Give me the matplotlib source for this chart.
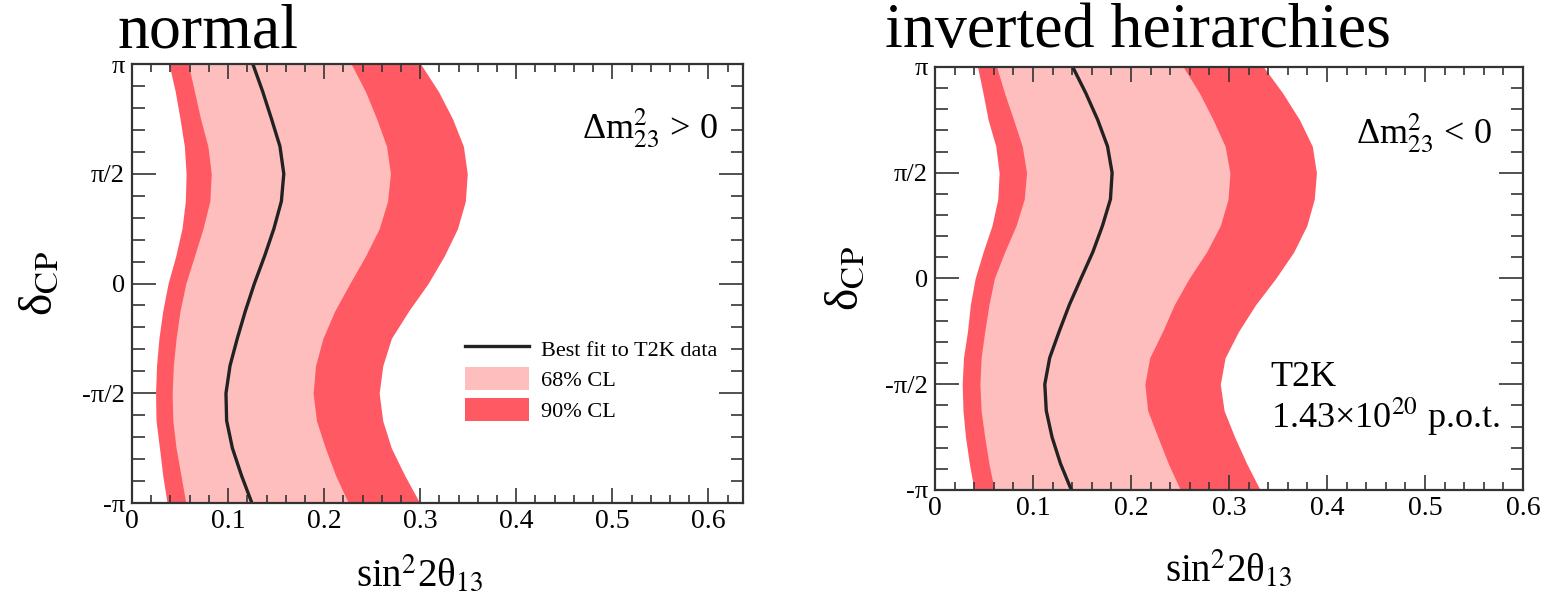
import numpy as np
import matplotlib
matplotlib.use("Agg")
import matplotlib.pyplot as plt
from matplotlib.ticker import MultipleLocator, FixedLocator

plt.rcParams["font.family"] = ["Liberation Serif", "DejaVu Serif"]
plt.rcParams["mathtext.fontset"] = "stix"

RED = "#FF5A64"
PINK = "#FFBEBE"
INK = "#222222"

# delta_CP rows (in units of pi), top to bottom
delta_frac = [1.0, 0.875, 0.75, 0.625, 0.5, 0.375, 0.25, 0.125, 0.0,
              -0.125, -0.25, -0.375, -0.5, -0.625, -0.75, -0.875, -1.0]

# normal hierarchy (sin^2 2theta13 edges)
nh_90_lo = [0.0385, 0.045, 0.050, 0.0545, 0.0563, 0.0555, 0.052, 0.0455, 0.0375,
            0.032, 0.028, 0.0255, 0.0245, 0.025, 0.0286, 0.032, 0.0365]
nh_68_lo = [0.0586, 0.065, 0.0714, 0.079, 0.0825, 0.081, 0.0739, 0.065, 0.056,
            0.050, 0.0459, 0.043, 0.0418, 0.0425, 0.0459, 0.051, 0.056]
nh_best = [0.1258, 0.136, 0.1452, 0.154, 0.158, 0.1555, 0.1477, 0.138, 0.1274,
           0.118, 0.1096, 0.102, 0.0978, 0.0985, 0.1045, 0.114, 0.1248]
nh_68_hi = [0.2282, 0.243, 0.2547, 0.265, 0.269, 0.266, 0.2573, 0.243, 0.2267,
            0.211, 0.1987, 0.191, 0.1885, 0.192, 0.2013, 0.212, 0.2252]
nh_90_hi = [0.3005, 0.319, 0.3337, 0.345, 0.349, 0.347, 0.3388, 0.325, 0.3082,
            0.288, 0.270, 0.261, 0.2573, 0.261, 0.270, 0.284, 0.2996]

# inverted hierarchy
ih_90_lo = [0.0434, 0.049, 0.0542, 0.062, 0.0654, 0.064, 0.0581, 0.049, 0.0409,
            0.036, 0.0331, 0.029, 0.0277, 0.0285, 0.0311, 0.035, 0.0399]
ih_68_lo = [0.063, 0.071, 0.0802, 0.089, 0.0934, 0.091, 0.0827, 0.071, 0.0605,
            0.055, 0.0507, 0.047, 0.0458, 0.047, 0.0507, 0.055, 0.0605]
ih_best = [0.1405, 0.154, 0.166, 0.176, 0.1807, 0.179, 0.1709, 0.161, 0.1489,
           0.137, 0.1267, 0.117, 0.112, 0.1135, 0.1194, 0.128, 0.1391]
ih_68_hi = [0.2534, 0.270, 0.2838, 0.296, 0.3009, 0.299, 0.2911, 0.277, 0.2592,
            0.244, 0.2322, 0.219, 0.2141, 0.217, 0.2274, 0.238, 0.2504]
ih_90_hi = [0.3353, 0.355, 0.372, 0.385, 0.3892, 0.387, 0.3794, 0.366, 0.3476,
            0.327, 0.3098, 0.296, 0.2911, 0.295, 0.3058, 0.318, 0.3318]

ytick_vals = [-np.pi, -np.pi / 2, 0, np.pi / 2, np.pi]
ytick_labels = ["-π", "-π/2", "0", "π/2", "π"]
xtick_vals = [0, 0.1, 0.2, 0.3, 0.4, 0.5, 0.6]
xtick_labels = ["0", "0.1", "0.2", "0.3", "0.4", "0.5", "0.6"]

fig = plt.figure(figsize=(15.44, 6.03), dpi=100)
axL = fig.add_axes([0.0855, 0.1658, 0.3957, 0.728])
axR = fig.add_axes([0.6056, 0.1874, 0.3808, 0.7015])


def draw(ax, lo90, lo68, best, hi68, hi90, xmax, xlab_xy):
    d = np.array(delta_frac) * np.pi
    ax.fill_betweenx(d, lo90, hi90, color=RED, lw=0, label="90% CL")
    ax.fill_betweenx(d, lo68, hi68, color=PINK, lw=0, label="68% CL")
    ax.plot(best, d, color=INK, lw=2.4, label="Best fit to T2K data")
    ax.set_xlim(0, xmax)
    ax.set_ylim(-np.pi, np.pi)
    ax.xaxis.set_major_locator(FixedLocator(xtick_vals))
    ax.set_xticklabels(xtick_labels)
    ax.xaxis.set_minor_locator(MultipleLocator(0.02))
    ax.yaxis.set_major_locator(FixedLocator(ytick_vals))
    ax.set_yticklabels(ytick_labels)
    ax.yaxis.set_minor_locator(MultipleLocator(np.pi / 10))
    ax.tick_params(which="both", direction="in", top=True, right=True,
                   color="#333333", labelsize=20)
    ax.tick_params(axis="y", labelsize=19)
    ax.tick_params(axis="x", which="major", length=11, width=1.2, pad=4)
    ax.tick_params(axis="x", which="minor", length=6, width=1.2)
    ax.tick_params(axis="y", which="major", length=17, width=1.2, pad=5)
    ax.tick_params(axis="y", which="minor", length=9, width=1.2)
    for s in ax.spines.values():
        s.set_linewidth(1.6)
        s.set_color("#333333")
    ax.set_xlabel(r"sin$^{2}$2θ$_{13}$", fontsize=28, va="center")
    ax.xaxis.set_label_coords(*xlab_xy)
    ax.set_ylabel(r"δ$_{\rm CP}$", fontsize=34, va="center")
    ax.yaxis.set_label_coords(-0.15, 0.5)


draw(axL, nh_90_lo, nh_68_lo, nh_best, nh_68_hi, nh_90_hi, 0.636, (0.47, -0.165))
draw(axR, ih_90_lo, ih_68_lo, ih_best, ih_68_hi, ih_90_hi, 0.6, (0.50, -0.19))

axL.text(0.959, 0.831, r"Δm$^{2}_{23}$ > 0", transform=axL.transAxes,
         fontsize=26, ha="right", va="baseline")
axR.text(0.947, 0.820, r"Δm$^{2}_{23}$ < 0", transform=axR.transAxes,
         fontsize=26, ha="right", va="baseline")
axR.text(0.571, 0.246, "T2K", transform=axR.transAxes,
         fontsize=26, ha="left", va="baseline")
axR.text(0.571, 0.147, "1.43×10$^{20}$ p.o.t.", transform=axR.transAxes,
         fontsize=26, ha="left", va="baseline")

h, l = axL.get_legend_handles_labels()
order = [2, 1, 0]
axL.legend([h[i] for i in order], [l[i] for i in order], loc="center left",
           bbox_to_anchor=(0.545, 0.282), frameon=False, fontsize=16,
           handlelength=2.9, handleheight=1.2, labelspacing=0.3,
           handletextpad=0.5, borderpad=0, borderaxespad=0)

fig.text(118 / 1544, 1 - 47 / 603, "normal", fontsize=46, va="baseline")
fig.text(885 / 1544, 1 - 47 / 603, "inverted heirarchies", fontsize=46,
         va="baseline")

fig.savefig("out.png", dpi=100)
